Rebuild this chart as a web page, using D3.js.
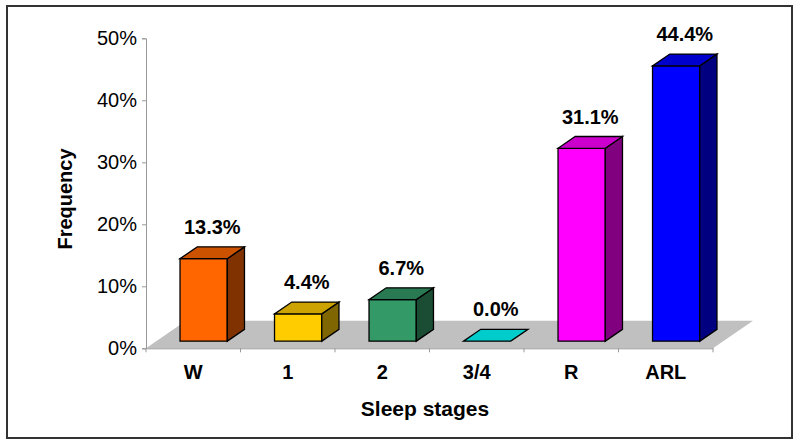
<!DOCTYPE html>
<html>
<head>
<meta charset="utf-8">
<script src="https://cdn.jsdelivr.net/npm/d3@7"></script>
<style>
  body { margin: 0; background: #fff; }
  text { font-family: Arial, "Liberation Sans", sans-serif; fill: #000; }
  .tickLb { font-size: 20px; }
  .catLb, .valLb, .axisLb { font-size: 20px; font-weight: bold; }
  .xTitle { font-size: 21px; }
</style>
</head>
<body>
<div id="main"></div>
<script>
// data
var categories = ["W", "1", "2", "3/4", "R", "ARL"];
var frequencies = [13.3, 4.4, 6.7, 0.0, 31.1, 44.4];
var yTicks = [0, 10, 20, 30, 40, 50];

// face colours (front) per bar
var barColors = ["#FF6600", "#FFCC00", "#339966", "#00FFFF", "#FF00FF", "#0000FF"];

var ctx = {
    w: 800,
    h: 446,
    left: 146,
    right: 713,
    base: 348.3,
    top: 38.3,
    depth: [40, -27.5],   // floor depth vector
    barFront: 0.26,       // bar front plane as fraction of floor depth
    barDepth: 0.43
};

var createViz = function() {
    var svg = d3.select("#main").append("svg")
        .attr("width", ctx.w)
        .attr("height", ctx.h);

    // outer frame
    svg.append("rect")
        .attr("x", 7).attr("y", 6)
        .attr("width", 785).attr("height", 432)
        .attr("fill", "#fff")
        .attr("stroke", "#333")
        .attr("stroke-width", 2);

    ctx.xScale = d3.scaleBand().domain(categories).range([ctx.left, ctx.right]);
    ctx.yScale = d3.scaleLinear().domain([0, 50]).range([ctx.base, ctx.top]);

    var dx = ctx.depth[0], dy = ctx.depth[1];

    // floor
    svg.append("polygon")
        .attr("points", [
            [ctx.left, ctx.base],
            [ctx.right, ctx.base],
            [ctx.right + dx, ctx.base + dy],
            [ctx.left + dx, ctx.base + dy]
        ].map(p => p.join(",")).join(" "))
        .attr("fill", "#C0C0C0");

    // y axis
    var yAxis = svg.append("g")
        .attr("transform", `translate(${ctx.left},0)`)
        .call(d3.axisLeft(ctx.yScale).tickValues(yTicks)
            .tickFormat(d => d + "%").tickSize(4).tickPadding(5));
    yAxis.select(".domain").attr("stroke", "#999");
    yAxis.selectAll(".tick line").attr("stroke", "#999");
    yAxis.selectAll("text").attr("class", "tickLb").attr("fill", "#000")
        .attr("font-family", null).attr("font-size", null);

    // x axis: baseline, boundary ticks, category labels
    var bw = ctx.xScale.bandwidth();
    var xAxis = svg.append("g")
        .attr("transform", `translate(0,${ctx.base})`)
        .call(d3.axisBottom(ctx.xScale).tickSize(0).tickPadding(0));
    xAxis.select(".domain").attr("stroke", "#999");
    xAxis.selectAll("text").attr("class", "catLb").attr("fill", "#000")
        .attr("font-family", null).attr("font-size", null)
        .attr("dy", null).attr("y", 31);
    var bounds = categories.map(c => ctx.xScale(c) + bw);
    xAxis.selectAll("line.bnd").data([ctx.left].concat(bounds)).enter()
        .append("line").attr("class", "bnd")
        .attr("x1", d => d).attr("x2", d => d)
        .attr("y1", 0).attr("y2", 4)
        .attr("stroke", "#999");

    // bars
    var fx = dx * ctx.barFront, fy = dy * ctx.barFront;
    var bx = dx * ctx.barDepth, by = dy * ctx.barDepth;
    var barW = bw * 0.5;
    var g = svg.append("g");
    categories.forEach((c, i) => {
        var v = frequencies[i];
        var col = d3.color(barColors[i]);
        var x0 = ctx.xScale(c) + (bw - barW) / 2 + fx;
        var x1 = x0 + barW;
        var yb = ctx.base + fy;
        var yt = ctx.yScale(v) + fy;
        var pts = a => a.map(p => p.join(",")).join(" ");
        var dark = d3.rgb(col.r * 0.5, col.g * 0.5, col.b * 0.5);
        var mid = d3.rgb(col.r * 0.8, col.g * 0.8, col.b * 0.8);
        if (v > 0) {
            g.append("polygon")
                .attr("points", pts([[x0, yt], [x1, yt], [x1, yb], [x0, yb]]))
                .attr("fill", col).attr("stroke", "#000").attr("stroke-width", 1.3);
            g.append("polygon")
                .attr("points", pts([[x1, yt], [x1 + bx, yt + by], [x1 + bx, yb + by], [x1, yb]]))
                .attr("fill", dark).attr("stroke", "#000").attr("stroke-width", 1.3);
        }
        g.append("polygon")
            .attr("points", pts([[x0, yt], [x1, yt], [x1 + bx, yt + by], [x0 + bx, yt + by]]))
            .attr("fill", mid).attr("stroke", "#000").attr("stroke-width", 1.3);

        g.append("text")
            .attr("class", "valLb")
            .attr("text-anchor", "middle")
            .attr("x", (x0 + x1 + bx) / 2)
            .attr("y", yt + by - 13)
            .text(v.toFixed(1) + "%");
    });

    // axis titles
    svg.append("text")
        .attr("class", "axisLb xTitle")
        .attr("text-anchor", "middle")
        .attr("x", 425).attr("y", 416)
        .text("Sleep stages");
    svg.append("text")
        .attr("class", "axisLb")
        .attr("text-anchor", "middle")
        .attr("transform", "translate(72,199) rotate(-90)")
        .text("Frequency");
};

createViz();
</script>
</body>
</html>
